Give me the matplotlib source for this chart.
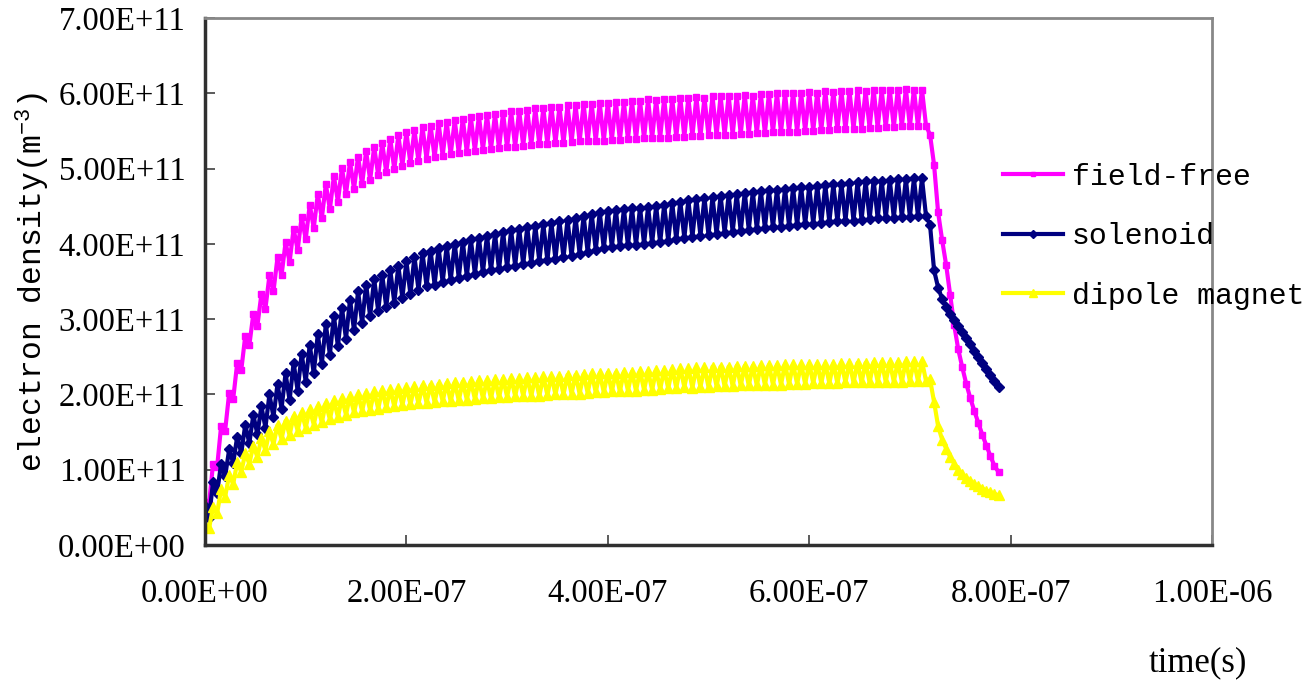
import numpy as np
import matplotlib
matplotlib.use("Agg")
import matplotlib.pyplot as plt
from matplotlib.ticker import FuncFormatter, MultipleLocator

plt.rcParams['mathtext.fontset'] = 'custom'
plt.rcParams['mathtext.rm'] = 'Liberation Mono'

# electron density per bunch passage, in 1e11 m^-3
# peak = just after bunch passage, trough = half a bunch spacing later
dt = 4e-9          # sample step (half the bunch spacing)
tail_start = 7.2e-7

ff_peak = [0.57, 1.08, 1.58, 2.02, 2.42, 2.78, 3.07, 3.33, 3.58, 3.82,
           4.02, 4.20, 4.36, 4.52, 4.66, 4.79, 4.90, 5.01, 5.09, 5.16,
           5.23, 5.29, 5.34, 5.39, 5.44, 5.48, 5.51, 5.55, 5.57, 5.60,
           5.62, 5.64, 5.66, 5.68, 5.70, 5.71, 5.72, 5.74, 5.76, 5.77,
           5.78, 5.80, 5.80, 5.82, 5.82, 5.84, 5.84, 5.86, 5.86, 5.87,
           5.87, 5.89, 5.88, 5.90, 5.90, 5.92, 5.91, 5.93, 5.92, 5.94,
           5.94, 5.95, 5.94, 5.96, 5.96, 5.97, 5.97, 5.98, 5.97, 5.99,
           5.99, 6.00, 6.00, 6.01, 6.00, 6.02, 6.01, 6.03, 6.02, 6.03,
           6.03, 6.04, 6.03, 6.05, 6.04, 6.05, 6.05, 6.06, 6.05, 6.05]
ff_trough = [0.54, 1.03, 1.52, 1.94, 2.32, 2.65, 2.91, 3.14, 3.37, 3.58,
             3.76, 3.92, 4.06, 4.21, 4.34, 4.46, 4.56, 4.66, 4.73, 4.79,
             4.85, 4.91, 4.95, 4.99, 5.04, 5.07, 5.10, 5.13, 5.15, 5.17,
             5.19, 5.21, 5.22, 5.24, 5.25, 5.26, 5.27, 5.28, 5.29, 5.30,
             5.31, 5.32, 5.33, 5.34, 5.34, 5.35, 5.36, 5.36, 5.37, 5.37,
             5.38, 5.38, 5.39, 5.39, 5.40, 5.40, 5.41, 5.41, 5.42, 5.42,
             5.43, 5.43, 5.44, 5.44, 5.45, 5.45, 5.46, 5.46, 5.47, 5.47,
             5.48, 5.48, 5.49, 5.49, 5.50, 5.50, 5.51, 5.51, 5.52, 5.52,
             5.53, 5.53, 5.54, 5.54, 5.55, 5.55, 5.56, 5.56, 5.57, 5.57]
ff_tail = [5.45, 5.05, 4.42, 4.05, 3.72, 3.32, 2.92, 2.60, 2.36,
           2.14, 1.95, 1.78, 1.62, 1.46, 1.32, 1.18, 1.05, 0.97]

sol_peak = [0.52, 0.84, 1.08, 1.27, 1.44, 1.60, 1.73, 1.84, 2.00, 2.14,
            2.28, 2.42, 2.54, 2.66, 2.80, 2.93, 3.04, 3.15, 3.26, 3.37,
            3.46, 3.53, 3.59, 3.65, 3.71, 3.77, 3.83, 3.88, 3.91, 3.94,
            3.97, 4.00, 4.03, 4.06, 4.08, 4.11, 4.13, 4.16, 4.18, 4.20,
            4.22, 4.24, 4.26, 4.28, 4.30, 4.32, 4.35, 4.37, 4.40, 4.42,
            4.44, 4.45, 4.46, 4.47, 4.48, 4.49, 4.50, 4.52, 4.54, 4.56,
            4.58, 4.60, 4.61, 4.62, 4.64, 4.65, 4.66, 4.68, 4.69, 4.70,
            4.71, 4.72, 4.73, 4.74, 4.75, 4.76, 4.77, 4.78, 4.79, 4.80,
            4.81, 4.82, 4.83, 4.84, 4.84, 4.85, 4.86, 4.86, 4.87, 4.87]
sol_trough = [0.36, 0.69, 0.91, 1.09, 1.22, 1.35, 1.47, 1.56, 1.70, 1.81,
              1.92, 2.05, 2.17, 2.28, 2.41, 2.53, 2.64, 2.74, 2.85, 2.95,
              3.04, 3.11, 3.16, 3.22, 3.28, 3.33, 3.39, 3.44, 3.46, 3.49,
              3.52, 3.55, 3.57, 3.60, 3.62, 3.65, 3.66, 3.69, 3.71, 3.73,
              3.75, 3.77, 3.78, 3.80, 3.82, 3.84, 3.87, 3.89, 3.92, 3.94,
              3.96, 3.97, 3.98, 3.99, 4.00, 4.01, 4.02, 4.04, 4.06, 4.08,
              4.09, 4.11, 4.12, 4.13, 4.15, 4.16, 4.17, 4.19, 4.20, 4.21,
              4.22, 4.23, 4.24, 4.25, 4.26, 4.27, 4.28, 4.29, 4.30, 4.31,
              4.31, 4.32, 4.33, 4.34, 4.34, 4.35, 4.36, 4.36, 4.37, 4.37]
sol_tail = [4.25, 3.65, 3.42, 3.27, 3.16, 3.07, 2.99, 2.91, 2.83,
            2.75, 2.67, 2.58, 2.50, 2.42, 2.34, 2.26, 2.18, 2.10]

dip_peak = [0.27, 0.50, 0.74, 0.93, 1.10, 1.22, 1.32, 1.42, 1.51, 1.59,
            1.65, 1.71, 1.76, 1.80, 1.84, 1.88, 1.92, 1.95, 1.98, 2.00,
            2.02, 2.04, 2.06, 2.07, 2.09, 2.10, 2.11, 2.12, 2.13, 2.14,
            2.15, 2.16, 2.17, 2.18, 2.19, 2.19, 2.20, 2.21, 2.22, 2.22,
            2.23, 2.23, 2.24, 2.25, 2.25, 2.26, 2.26, 2.27, 2.28, 2.28,
            2.29, 2.29, 2.30, 2.30, 2.31, 2.31, 2.32, 2.33, 2.34, 2.35,
            2.35, 2.36, 2.36, 2.37, 2.37, 2.37, 2.38, 2.38, 2.38, 2.39,
            2.39, 2.39, 2.40, 2.40, 2.40, 2.41, 2.41, 2.41, 2.41, 2.42,
            2.42, 2.42, 2.42, 2.43, 2.43, 2.43, 2.43, 2.44, 2.44, 2.44]
dip_trough = [0.22, 0.42, 0.64, 0.81, 0.97, 1.08, 1.17, 1.26, 1.34, 1.41,
              1.46, 1.52, 1.56, 1.60, 1.63, 1.67, 1.70, 1.73, 1.76, 1.78,
              1.79, 1.81, 1.83, 1.84, 1.86, 1.87, 1.88, 1.89, 1.90, 1.91,
              1.91, 1.92, 1.93, 1.94, 1.95, 1.95, 1.96, 1.97, 1.98, 1.98,
              1.98, 1.98, 1.99, 2.00, 2.00, 2.01, 2.01, 2.02, 2.03, 2.03,
              2.04, 2.04, 2.05, 2.05, 2.06, 2.06, 2.07, 2.08, 2.09, 2.10,
              2.09, 2.10, 2.10, 2.11, 2.11, 2.11, 2.12, 2.12, 2.12, 2.13,
              2.13, 2.13, 2.14, 2.14, 2.14, 2.15, 2.15, 2.15, 2.15, 2.16,
              2.16, 2.16, 2.16, 2.17, 2.17, 2.17, 2.17, 2.18, 2.18, 2.18]
dip_tail = [2.20, 1.90, 1.58, 1.40, 1.28, 1.17, 1.08, 1.00, 0.94,
            0.89, 0.85, 0.81, 0.78, 0.75, 0.72, 0.70, 0.68, 0.66]

labels = ['field-free', 'solenoid', 'dipole magnet']
colors = ['#FF00FF', '#000080', '#FFFF00']
markers = ['s', 'D', '^']
msizes = [4.0, 5.5, 7.5]


def build(peak, trough, tail):
    y = np.column_stack((peak, trough)).ravel()
    y = np.concatenate((y, tail)) * 1e11
    t_osc = np.arange(len(peak) * 2) * dt
    t_tail = tail_start + np.arange(len(tail)) * dt
    return np.concatenate((t_osc, t_tail)), y


series = [build(ff_peak, ff_trough, ff_tail),
          build(sol_peak, sol_trough, sol_tail),
          build(dip_peak, dip_trough, dip_tail)]

fig = plt.figure(figsize=(13.15, 6.86), dpi=100)
ax = fig.add_axes([205 / 1315, 1 - 545 / 686, 1007 / 1315, 527 / 686])

for (t, y), lab, c, m, ms in zip(series, labels, colors, markers, msizes):
    ax.plot(t, y, color=c, lw=3.0, marker=m, ms=ms, mec=c, mfc=c, label=lab)

ax.set_xlim(0, 1e-6)
ax.set_ylim(0, 7e11)
ax.xaxis.set_major_locator(MultipleLocator(2e-7))
ax.yaxis.set_major_locator(MultipleLocator(1e11))
fmt = FuncFormatter(lambda v, p: f"{v:.2E}")
ax.xaxis.set_major_formatter(fmt)
ax.yaxis.set_major_formatter(fmt)

for lab in ax.get_xticklabels() + ax.get_yticklabels():
    lab.set_fontfamily('Liberation Serif')
    lab.set_fontsize(23.5)
ax.tick_params(axis='both', direction='in', length=7, width=1.2, color='#404040')
ax.tick_params(axis='y', pad=14)
ax.tick_params(axis='x', pad=24)

for s in ['left', 'bottom']:
    ax.spines[s].set_color('#303030')
    ax.spines[s].set_linewidth(2.5)
for s in ['top', 'right']:
    ax.spines[s].set_color('#888888')
    ax.spines[s].set_linewidth(2.0)

ax.set_ylabel('electron density(m$^{-3}$)', family='Liberation Mono', fontsize=22.5,
              va='center')
ax.yaxis.set_label_coords(-0.171, 0.5)
ax.set_xlabel('time(s)', family='Liberation Serif', fontsize=25, va='center')
ax.xaxis.set_label_coords(0.986, -0.224)

leg = ax.legend(loc='center left', bbox_to_anchor=(0.7925, 0.586), frameon=False,
                prop=dict(family='Liberation Mono', size=21.5), numpoints=1,
                handlelength=2.0, handletextpad=0.3, labelspacing=1.05,
                borderpad=0, borderaxespad=0, markerscale=0.8)

fig.savefig('out.png', dpi=100)
